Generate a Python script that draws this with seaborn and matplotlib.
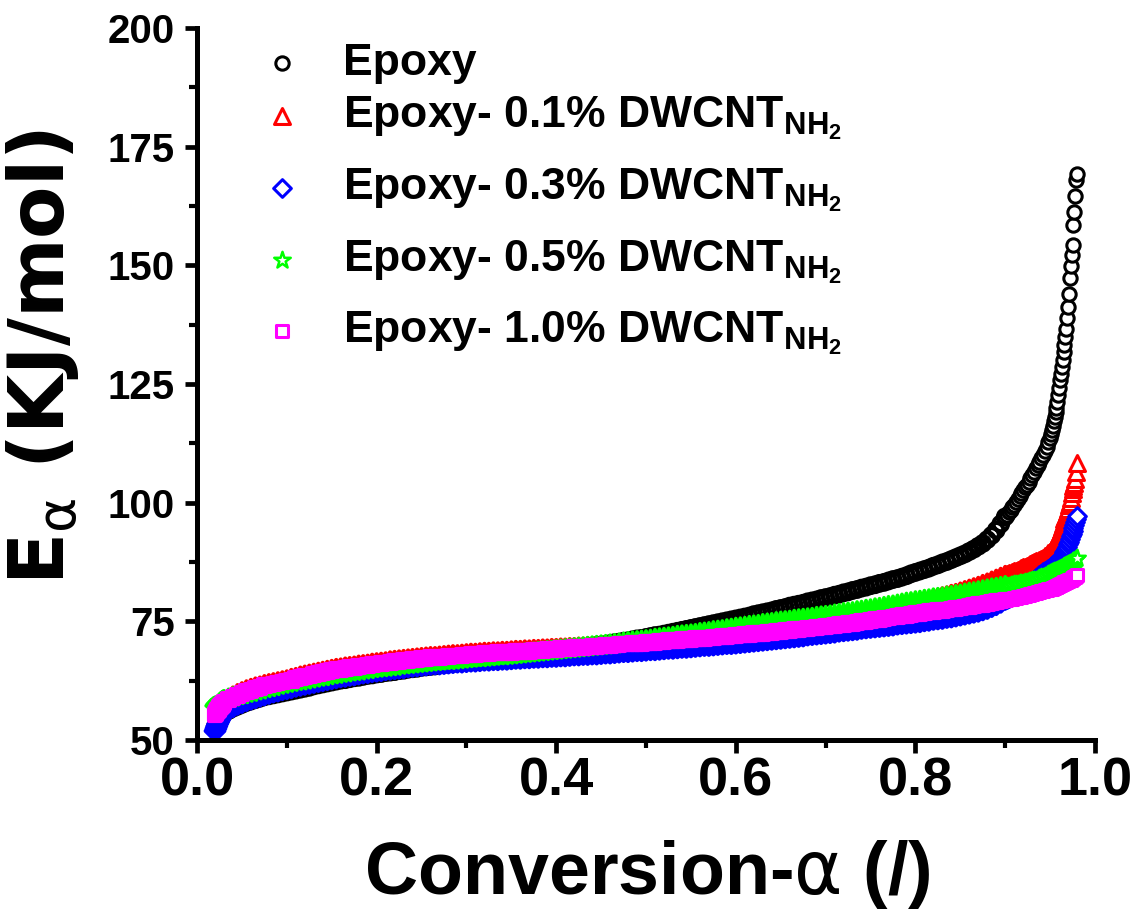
import matplotlib
matplotlib.use("Agg")
import matplotlib.pyplot as plt
from matplotlib.ticker import MultipleLocator
from matplotlib.font_manager import FontProperties
import seaborn as sns
import numpy as np
import pandas as pd

# conversion grid (finer at the start and near the end of cure)
alpha = np.concatenate([
    np.arange(20, 30) / 1000,       # 0.020 - 0.029
    np.arange(30, 901, 5) / 1000,   # 0.030 - 0.900
    np.arange(902, 951, 2) / 1000,  # 0.902 - 0.950
    np.arange(951, 981) / 1000,     # 0.951 - 0.980
])

# activation energy E_alpha (kJ/mol)
epoxy = [
    52.6, 53.0, 53.4, 53.7, 54.0, 54.3, 54.6, 54.9, 55.1, 55.4,
    55.6, 56.2, 56.7, 57.1,
    57.5, 57.9, 58.2, 58.5, 58.8, 59.1, 59.3, 59.5, 59.7, 59.9,
    60.1, 60.3, 60.5, 60.7, 60.9, 61.1, 61.4, 61.6, 61.8, 62.0,
    62.2, 62.4, 62.6, 62.7, 62.9, 63.1, 63.2, 63.4, 63.6, 63.7,
    63.9, 64.0, 64.2, 64.3, 64.4, 64.6, 64.7, 64.9, 65.0, 65.1,
    65.3, 65.4, 65.5, 65.6, 65.8, 65.9, 66.0, 66.1, 66.3, 66.4,
    66.5, 66.6, 66.7, 66.8, 66.9, 67.0, 67.2, 67.3, 67.4, 67.5,
    67.6, 67.7, 67.8, 67.9, 68.0, 68.1, 68.3, 68.4, 68.5, 68.6,
    68.7, 68.8, 69.0, 69.1, 69.2, 69.3, 69.5, 69.6, 69.7, 69.9,
    70.0, 70.1, 70.3, 70.5, 70.6, 70.8, 70.9, 71.1, 71.3, 71.4,
    71.6, 71.8, 72.0, 72.1, 72.3, 72.5, 72.7, 72.9, 73.1, 73.3,
    73.5, 73.7, 73.9, 74.1, 74.3, 74.5, 74.7, 74.9, 75.1, 75.3,
    75.5, 75.7, 75.9, 76.1, 76.4, 76.6, 76.8, 77.0, 77.2, 77.5,
    77.7, 77.9, 78.2, 78.4, 78.6, 78.8, 79.1, 79.3, 79.5, 79.8,
    80.0, 80.2, 80.5, 80.7, 81.0, 81.2, 81.5, 81.7, 82.0, 82.2,
    82.5, 82.7, 83.0, 83.2, 83.5, 83.8, 84.0, 84.3, 84.6, 85.0,
    85.3, 85.6, 85.9, 86.2, 86.6, 86.9, 87.3, 87.6, 88.0, 88.4,
    88.8, 89.2, 89.7, 90.2, 90.8, 91.4, 92.2, 93.1, 94.2, 95.5,
    97.0,
    97.5, 98.0, 98.5, 99.0, 99.6, 100.2, 100.8, 101.4, 102.0, 102.6,
    103.2, 103.8, 104.4, 105.1, 105.8, 106.5, 107.2, 107.9, 108.6, 109.3,
    110.1, 110.9, 111.8, 112.7, 113.6,
    114.5, 115.3, 116.2, 117.1, 118.0, 119.0, 120.0, 121.1, 122.6, 124.2,
    125.8, 127.2, 128.6, 130.1, 131.7, 133.3, 134.9, 136.6, 138.8, 141.2,
    144.0, 147.3, 149.8, 152.2, 154.3, 158.5, 161.2, 164.6, 168.0, 169.2,
]

cnt_01 = [
    53.6, 54.2, 54.8, 55.3, 55.8, 56.2, 56.6, 57.0, 57.3, 57.6,
    57.9, 58.7, 59.3, 59.8,
    60.2, 60.6, 60.9, 61.2, 61.4, 61.7, 61.9, 62.1, 62.3, 62.5,
    62.7, 63.0, 63.2, 63.5, 63.7, 63.9, 64.1, 64.3, 64.5, 64.7,
    64.9, 65.1, 65.2, 65.4, 65.5, 65.6, 65.8, 65.9, 66.0, 66.2,
    66.3, 66.4, 66.5, 66.7, 66.8, 66.9, 67.0, 67.1, 67.2, 67.3,
    67.4, 67.5, 67.6, 67.6, 67.7, 67.8, 67.9, 68.0, 68.0, 68.1,
    68.2, 68.3, 68.3, 68.4, 68.5, 68.5, 68.6, 68.6, 68.7, 68.7,
    68.8, 68.9, 68.9, 69.0, 69.0, 69.1, 69.1, 69.2, 69.2, 69.3,
    69.3, 69.4, 69.4, 69.5, 69.5, 69.6, 69.6, 69.7, 69.7, 69.8,
    69.8, 69.9, 70.0, 70.1, 70.2, 70.2, 70.3, 70.4, 70.5, 70.5,
    70.6, 70.7, 70.8, 70.9, 71.0, 71.1, 71.2, 71.3, 71.4, 71.5,
    71.6, 71.7, 71.8, 71.9, 72.0, 72.2, 72.3, 72.4, 72.5, 72.6,
    72.7, 72.8, 73.0, 73.1, 73.2, 73.3, 73.4, 73.6, 73.7, 73.8,
    73.9, 74.0, 74.2, 74.3, 74.4, 74.6, 74.7, 74.8, 74.9, 75.1,
    75.2, 75.4, 75.5, 75.7, 75.8, 76.0, 76.2, 76.3, 76.5, 76.6,
    76.8, 77.0, 77.2, 77.4, 77.5, 77.7, 77.9, 78.1, 78.3, 78.5,
    78.7, 78.9, 79.2, 79.4, 79.7, 79.9, 80.2, 80.4, 80.7, 80.9,
    81.2, 81.5, 81.8, 82.1, 82.4, 82.8, 83.1, 83.5, 83.9, 84.3,
    84.7,
    84.9, 85.1, 85.2, 85.4, 85.6, 85.7, 85.9, 86.0, 86.2, 86.4,
    86.5, 86.7, 86.9, 87.0, 87.2, 87.4, 87.6, 87.8, 88.0, 88.2,
    88.4, 88.7, 89.0, 89.3, 89.6,
    89.9, 90.2, 90.5, 90.8, 91.1, 91.5, 91.9, 92.3, 92.7, 93.2,
    93.7, 94.2, 94.8, 95.4, 96.0, 96.5, 97.0, 97.5, 98.0, 98.7,
    99.4, 100.1, 101.0, 102.0, 102.8, 103.5, 104.1, 105.0, 106.5, 108.3,
]

cnt_03 = [
    51.9, 52.4, 52.9, 53.4, 53.8, 54.2, 54.6, 55.0, 55.3, 55.6,
    55.9, 56.5, 57.0, 57.5,
    57.9, 58.3, 58.6, 58.9, 59.2, 59.5, 59.8, 60.1, 60.3, 60.6,
    60.8, 61.0, 61.3, 61.5, 61.7, 61.9, 62.1, 62.3, 62.5, 62.7,
    62.9, 63.1, 63.3, 63.4, 63.6, 63.7, 63.9, 64.1, 64.2, 64.4,
    64.5, 64.6, 64.8, 64.9, 65.0, 65.1, 65.2, 65.4, 65.5, 65.6,
    65.7, 65.8, 65.9, 66.0, 66.0, 66.1, 66.2, 66.3, 66.4, 66.4,
    66.5, 66.6, 66.6, 66.7, 66.8, 66.8, 66.9, 66.9, 67.0, 67.0,
    67.1, 67.2, 67.2, 67.3, 67.3, 67.4, 67.4, 67.5, 67.5, 67.6,
    67.6, 67.7, 67.7, 67.8, 67.9, 67.9, 68.0, 68.0, 68.1, 68.1,
    68.2, 68.3, 68.3, 68.4, 68.5, 68.6, 68.6, 68.7, 68.8, 68.8,
    68.9, 69.0, 69.0, 69.1, 69.2, 69.3, 69.3, 69.4, 69.5, 69.5,
    69.6, 69.7, 69.8, 69.9, 69.9, 70.0, 70.1, 70.2, 70.3, 70.3,
    70.4, 70.5, 70.6, 70.7, 70.8, 70.9, 71.0, 71.1, 71.2, 71.3,
    71.4, 71.5, 71.6, 71.7, 71.8, 71.9, 72.1, 72.2, 72.3, 72.4,
    72.5, 72.6, 72.7, 72.9, 73.0, 73.1, 73.2, 73.3, 73.5, 73.6,
    73.7, 73.8, 73.9, 74.0, 74.1, 74.2, 74.4, 74.5, 74.6, 74.7,
    74.8, 74.9, 75.1, 75.2, 75.4, 75.5, 75.6, 75.8, 75.9, 76.1,
    76.3, 76.5, 76.7, 76.9, 77.1, 77.4, 77.7, 78.1, 78.5, 79.0,
    79.6,
    79.8, 80.0, 80.1, 80.3, 80.5, 80.7, 81.0, 81.3, 81.5, 81.8,
    82.1, 82.5, 82.8, 83.2, 83.5, 83.8, 84.1, 84.4, 84.7, 85.0,
    85.3, 85.5, 85.8, 86.0, 86.3,
    86.5, 86.6, 86.8, 86.9, 87.1, 87.3, 87.4, 87.6, 87.7, 87.9,
    88.1, 88.3, 88.6, 88.8, 89.1, 89.5, 89.9, 90.3, 90.7, 91.2,
    91.7, 92.3, 92.9, 93.4, 94.0, 94.6, 95.2, 95.9, 96.5, 97.2,
]

cnt_05 = [
    56.6, 56.9, 57.1, 57.3, 57.5, 57.7, 57.9, 58.0, 58.2, 58.3,
    58.4, 58.7, 59.0, 59.3,
    59.5, 59.8, 60.0, 60.3, 60.5, 60.8, 61.0, 61.2, 61.5, 61.7,
    61.9, 62.1, 62.3, 62.4, 62.6, 62.8, 63.0, 63.2, 63.3, 63.5,
    63.7, 63.8, 64.0, 64.1, 64.3, 64.4, 64.5, 64.7, 64.8, 65.0,
    65.1, 65.2, 65.3, 65.4, 65.5, 65.7, 65.8, 65.9, 66.0, 66.1,
    66.2, 66.3, 66.4, 66.5, 66.6, 66.7, 66.7, 66.8, 66.9, 67.0,
    67.1, 67.2, 67.3, 67.3, 67.4, 67.5, 67.6, 67.7, 67.7, 67.8,
    67.9, 68.0, 68.1, 68.2, 68.3, 68.4, 68.5, 68.6, 68.7, 68.8,
    68.9, 69.0, 69.1, 69.2, 69.3, 69.4, 69.5, 69.6, 69.7, 69.8,
    69.9, 70.0, 70.1, 70.2, 70.3, 70.5, 70.6, 70.7, 70.8, 70.9,
    71.0, 71.1, 71.3, 71.4, 71.5, 71.6, 71.7, 71.9, 72.0, 72.1,
    72.2, 72.3, 72.5, 72.6, 72.7, 72.9, 73.0, 73.1, 73.3, 73.4,
    73.6, 73.7, 73.8, 74.0, 74.1, 74.2, 74.4, 74.5, 74.6, 74.8,
    74.9, 75.0, 75.1, 75.3, 75.4, 75.5, 75.6, 75.7, 75.9, 76.0,
    76.1, 76.2, 76.4, 76.5, 76.7, 76.8, 76.9, 77.1, 77.2, 77.4,
    77.5, 77.7, 77.8, 78.0, 78.2, 78.3, 78.5, 78.7, 78.9, 79.0,
    79.2, 79.3, 79.5, 79.6, 79.8, 79.9, 80.0, 80.2, 80.3, 80.5,
    80.6, 80.8, 81.0, 81.1, 81.3, 81.5, 81.7, 81.9, 82.0, 82.2,
    82.4,
    82.5, 82.5, 82.6, 82.7, 82.8, 82.8, 82.9, 83.0, 83.0, 83.1,
    83.2, 83.3, 83.4, 83.5, 83.6, 83.7, 83.8, 83.9, 84.1, 84.3,
    84.4, 84.6, 84.8, 84.9, 85.1,
    85.2, 85.3, 85.4, 85.5, 85.6, 85.6, 85.7, 85.8, 85.9, 86.0,
    86.1, 86.2, 86.3, 86.4, 86.5, 86.6, 86.7, 86.8, 86.9, 87.0,
    87.1, 87.2, 87.3, 87.4, 87.6, 87.7, 87.8, 88.0, 88.2, 88.4,
]

cnt_10 = [
    55.3, 55.6, 55.9, 56.2, 56.5, 56.8, 57.0, 57.3, 57.5, 57.7,
    57.9, 58.5, 59.0, 59.4,
    59.8, 60.2, 60.5, 60.8, 61.1, 61.4, 61.6, 61.8, 62.0, 62.2,
    62.4, 62.6, 62.9, 63.1, 63.3, 63.5, 63.8, 64.0, 64.2, 64.4,
    64.6, 64.8, 64.9, 65.1, 65.2, 65.3, 65.5, 65.6, 65.7, 65.9,
    66.0, 66.1, 66.2, 66.4, 66.5, 66.6, 66.7, 66.8, 66.9, 67.0,
    67.1, 67.2, 67.3, 67.3, 67.4, 67.5, 67.6, 67.7, 67.7, 67.8,
    67.9, 68.0, 68.0, 68.1, 68.2, 68.2, 68.3, 68.4, 68.4, 68.5,
    68.5, 68.6, 68.6, 68.7, 68.7, 68.8, 68.9, 68.9, 69.0, 69.0,
    69.1, 69.2, 69.2, 69.3, 69.4, 69.5, 69.5, 69.6, 69.7, 69.7,
    69.8, 69.9, 69.9, 70.0, 70.1, 70.2, 70.2, 70.3, 70.4, 70.4,
    70.5, 70.6, 70.6, 70.7, 70.8, 70.9, 70.9, 71.0, 71.1, 71.1,
    71.2, 71.3, 71.4, 71.4, 71.5, 71.6, 71.7, 71.8, 71.8, 71.9,
    72.0, 72.1, 72.2, 72.3, 72.4, 72.5, 72.5, 72.6, 72.7, 72.8,
    72.9, 73.0, 73.1, 73.2, 73.3, 73.4, 73.5, 73.6, 73.7, 73.8,
    73.9, 74.0, 74.1, 74.3, 74.4, 74.5, 74.6, 74.7, 74.9, 75.0,
    75.1, 75.3, 75.4, 75.6, 75.7, 75.9, 76.0, 76.2, 76.3, 76.5,
    76.6, 76.7, 76.8, 77.0, 77.1, 77.2, 77.3, 77.4, 77.6, 77.7,
    77.8, 78.0, 78.1, 78.3, 78.5, 78.6, 78.8, 79.0, 79.1, 79.3,
    79.5,
    79.6, 79.7, 79.8, 79.8, 79.9, 80.0, 80.1, 80.2, 80.2, 80.3,
    80.4, 80.5, 80.6, 80.7, 80.8, 80.9, 81.0, 81.1, 81.2, 81.3,
    81.4, 81.5, 81.6, 81.7, 81.8,
    81.9, 81.9, 82.0, 82.1, 82.2, 82.3, 82.3, 82.4, 82.5, 82.6,
    82.7, 82.8, 82.9, 83.0, 83.1, 83.2, 83.2, 83.3, 83.4, 83.5,
    83.6, 83.7, 83.8, 84.0, 84.1, 84.2, 84.3, 84.4, 84.6, 84.7,
]

labels = [
    "Epoxy",
    r"Epoxy- 0.1% DWCNT$_{\mathrm{NH_2}}$",
    r"Epoxy- 0.3% DWCNT$_{\mathrm{NH_2}}$",
    r"Epoxy- 0.5% DWCNT$_{\mathrm{NH_2}}$",
    r"Epoxy- 1.0% DWCNT$_{\mathrm{NH_2}}$",
]
series = [epoxy, cnt_01, cnt_03, cnt_05, cnt_10]
colors = ["#000000", "#ff0000", "#0000ff", "#00ff00", "#ff00ff"]
markers = ["o", "^", "D", "*", "s"]
# dense part (alpha <= 0.9): bigger, thick rings so the band closes up
body_size = [10.5, 12.0, 9.5, 13.5, 9.2]
body_lw = [3.0, 3.0, 3.0, 2.6, 3.0]
# steep tail (alpha > 0.9): white-faced hollow symbols, as in the legend
tail_size = [9.6, 11.5, 9.0, 12.5, 8.4]
tail_lw = [2.2, 2.2, 2.2, 1.8, 2.2]

sns.set_style("ticks")
plt.rcParams["mathtext.fontset"] = "custom"
plt.rcParams["mathtext.rm"] = "Liberation Sans:bold"
plt.rcParams["mathtext.it"] = "Liberation Sans:bold"
plt.rcParams["mathtext.bf"] = "Liberation Sans:bold"
plt.rcParams["font.family"] = ["Liberation Sans", "DejaVu Sans"]
for key in ["text.color", "axes.labelcolor", "xtick.color", "ytick.color", "axes.edgecolor"]:
    plt.rcParams[key] = "black"

fig = plt.figure(figsize=(11.41, 9.23), dpi=100)
ax = fig.add_axes([0.1727, 0.1983, 0.787, 0.7714])


def draw(df, mk, ms, lw, col, face, lab):
    sns.scatterplot(data=df, x="alpha", y="E", ax=ax, marker=mk, s=ms ** 2,
                    facecolor=face, edgecolor=col, linewidth=lw,
                    label=lab, legend=lab is not None)
    pts = ax.collections[-1]
    pts.set_sizes([ms ** 2])
    pts.set_linewidths([lw])
    pts.set_facecolor(face)
    pts.set_edgecolor(col)
    if lab is None:
        pts.set_label("_nolegend_")


for i, vals in enumerate(series):
    df = pd.DataFrame({"alpha": alpha, "E": vals})
    body = df[df["alpha"] <= 0.9005]
    tail = df[df["alpha"] > 0.9005]
    draw(body, markers[i], body_size[i], body_lw[i], colors[i], "none", None)
    draw(tail, markers[i], tail_size[i], tail_lw[i], colors[i], "white", labels[i])

ax.set_xlim(0, 1.0)
ax.set_ylim(50, 200)
ax.xaxis.set_major_locator(MultipleLocator(0.2))
ax.xaxis.set_minor_locator(MultipleLocator(0.1))
ax.yaxis.set_major_locator(MultipleLocator(25))
ax.yaxis.set_minor_locator(MultipleLocator(12.5))

for side in ["top", "right"]:
    ax.spines[side].set_visible(False)
for side in ["left", "bottom"]:
    ax.spines[side].set_linewidth(3.6)
    ax.spines[side].set_color("black")

ax.tick_params(which="major", direction="out", length=9, width=3.4, color="black")
ax.tick_params(which="minor", direction="out", length=5.5, width=3.0, color="black")
ax.tick_params(axis="y", which="major", pad=7)
ax.tick_params(axis="x", which="major", pad=3)

for t in ax.get_yticklabels():
    t.set_fontproperties(FontProperties(family="Liberation Sans", weight="bold", size=29))
    t.set_color("black")
for t in ax.get_xticklabels():
    t.set_fontproperties(FontProperties(family="Liberation Sans", weight="bold", size=39))
    t.set_color("black")

ax.set_xlabel(r"Conversion-$\mathrm{\alpha}$ (/)", color="black",
              fontproperties=FontProperties(family="Liberation Sans", weight="bold",
                                            size=53, math_fontfamily="dejavusans"))
ax.xaxis.set_label_coords(0.501, -0.138)

ax.set_ylabel(r"E$_{\mathrm{\alpha}}$ (KJ/mol)", color="black",
              fontproperties=FontProperties(family="DejaVu Sans", weight="bold",
                                            size=55, math_fontfamily="dejavusans"),
              va="center", ha="center")
ax.yaxis.set_label_coords(-0.172, 0.538)

# legend in two blocks: the plain first row sits closer than the subscripted rows
handles, labs = ax.get_legend_handles_labels()
leg_font = FontProperties(family="Liberation Sans", weight="bold", size=32)
leg_kw = dict(loc="upper left", frameon=False, borderpad=0, borderaxespad=0,
              handlelength=1.0, handletextpad=0.88, markerscale=1.0, prop=leg_font,
              labelcolor="black")
leg1 = ax.legend(handles[:1], labs[:1], bbox_to_anchor=(0.0699, 0.979), **leg_kw)
ax.add_artist(leg1)
ax.legend(handles[1:], labs[1:], bbox_to_anchor=(0.0699, 0.906),
          labelspacing=0.55, **leg_kw)

fig.savefig("out.png", dpi=100)
